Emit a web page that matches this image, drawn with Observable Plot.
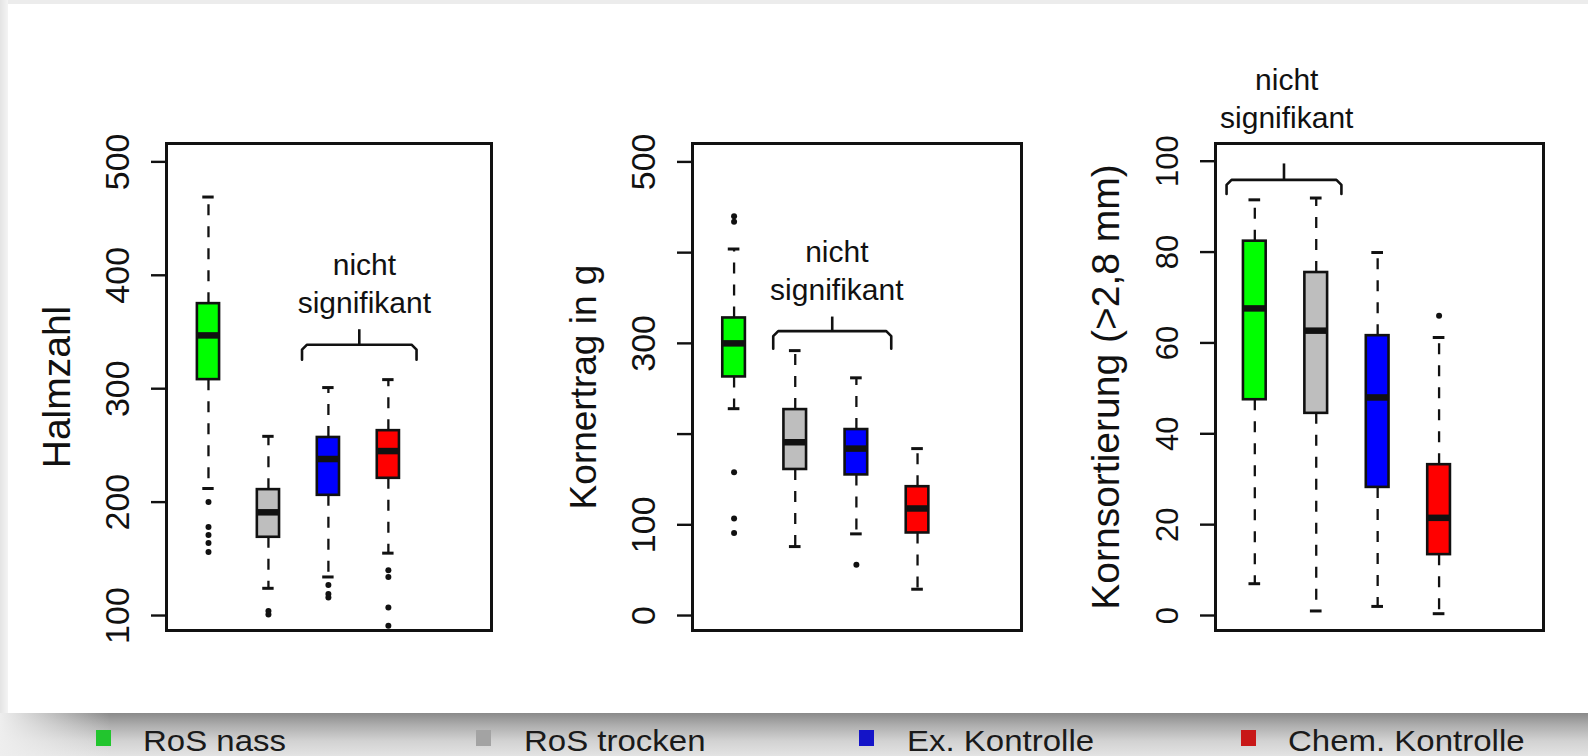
<!DOCTYPE html>
<html><head><meta charset="utf-8">
<script src="https://cdn.jsdelivr.net/npm/d3@7"></script>
<script src="https://cdn.jsdelivr.net/npm/@observablehq/plot@0.6"></script>
<style>
html,body{margin:0;padding:0;}
body{width:1588px;height:756px;position:relative;overflow:hidden;background:#ececec;font-family:"Liberation Sans",Arial,sans-serif;}
#card{position:absolute;left:8px;top:4px;width:1580px;height:709px;background:#fff;}
#leftshade{position:absolute;left:0;top:0;width:8px;height:713px;background:linear-gradient(to right,#e4e4e4,#f4f4f4);}
#strip{position:absolute;left:0;top:713px;width:1588px;height:43px;background:linear-gradient(to bottom,#8a8a8a 0%,#adadad 28%,#d2d2d2 65%,#e3e3e3 100%);}
#stripfade{position:absolute;left:0;top:713px;width:110px;height:43px;background:linear-gradient(to right,rgba(238,238,238,1),rgba(238,238,238,0));}
.panel{position:absolute;top:0;}
.sw{position:absolute;top:730px;width:15px;height:16px;}
.lt{position:absolute;top:726px;font-size:30px;color:#1a1a1a;transform:scaleX(1.1);transform-origin:left top;white-space:nowrap;line-height:1;}
</style></head>
<body>
<div id="leftshade"></div>
<div id="card"></div>
<div id="strip"></div>
<div id="stripfade"></div>
<div id="legend"></div>
<script>
const groups = ["RoS nass", "RoS trocken", "Ex. Kontrolle", "Chem. Kontrolle"];
const boxColors = ["#00ff00", "#bebebe", "#0000ff", "#ff0000"];
const legendColors = ["#22c52e", "#a3a3a3", "#1414c8", "#c81818"];

// Panel 1: Halmzahl
const halmLow  = [212, 124, 134, 155];
const halmQ1   = [308, 169, 206, 221];
const halmMed  = [347, 191, 238, 245];
const halmQ3   = [375, 211, 257, 263];
const halmHigh = [469, 258, 301, 308];
const halmOut  = [[200, 178, 171, 164, 156], [104, 101], [127, 119, 116], [140, 134, 107, 91]];
const halmTicks  = [100, 200, 300, 400, 500];
const halmLabels = [100, 200, 300, 400, 500];

// Panel 2: Kornertrag in g
const kornLow  = [228, 76, 90, 29];
const kornQ1   = [263, 161, 155, 91];
const kornMed  = [300, 191, 184, 118];
const kornQ3   = [328, 227, 205, 142];
const kornHigh = [404, 292, 262, 184];
const kornOut  = [[440, 434, 158, 107, 91], [], [56], []];
const kornTicks  = [0, 100, 200, 300, 400, 500];
const kornLabels = [0, 100, 300, 500];

// Panel 3: Kornsortierung
const sortLow  = [7, 1, 2, 0.4];
const sortQ1   = [47.5, 44.5, 28.2, 13.4];
const sortMed  = [67.6, 62.7, 48, 21.5];
const sortQ3   = [82.4, 75.5, 61.6, 33.2];
const sortHigh = [91.5, 91.9, 79.9, 61.2];
const sortOut  = [[], [], [], [66]];
const sortTicks  = [0, 20, 40, 60, 80, 100];
const sortLabels = [0, 20, 40, 60, 80, 100];

const titles = ["Halmzahl", "Kornertrag in g", "Kornsortierung (>2,8 mm)"];
const sigText = "nicht\nsignifikant";
// "nicht signifikant" brackets: group span, bar level, leg end, tip, label anchor
const brackets = [
  {x1: 2.56, x2: 4.47, y: 338.8, leg: 325.5, tip: 352, tx: 3.6, ty: 366.7},
  {x1: 1.64, x2: 3.57, y: 313.5, leg: 294, tip: 329, tx: 2.68, ty: 347.3},
  {x1: 0.54, x2: 2.41, y: 95.9, leg: 92.8, tip: 99.4, tx: 1.52, ty: 107.3}
];

const FONT = "'Liberation Sans', Arial, Helvetica, sans-serif";
const INK = "#111";

function panel(cfg) {
  const {low, q1, med, q3, high, out, ticks, labels, title, br, left, width, marginLeft, marginRight, xDomain, yDomain, tickFont, titleFont} = cfg;
  const height = 700, marginTop = 143, marginBottom = 70;
  const rows = groups.map((g, i) => ({g, i: i + 1, low: low[i], q1: q1[i], med: med[i], q3: q3[i], high: high[i], color: boxColors[i]}));
  const outs = out.flatMap((vals, i) => vals.map(v => ({i: i + 1, v})));
  const hw = 0.185, sw = 0.095;
  const pxX = (width - marginLeft - marginRight) / (xDomain[1] - xDomain[0]);
  const pxY = (height - marginTop - marginBottom) / (yDomain[1] - yDomain[0]);
  const cx = 5 / pxX, cy = 5 / pxY;
  const xc = (br.x1 + br.x2) / 2;
  const brPts = [
    {x: br.x1, y: br.leg}, {x: br.x1, y: br.y - cy}, {x: br.x1 + cx, y: br.y},
    {x: br.x2 - cx, y: br.y}, {x: br.x2, y: br.y - cy}, {x: br.x2, y: br.leg}
  ];
  const svg = Plot.plot({
    width, height, marginLeft, marginRight, marginTop, marginBottom,
    x: {domain: xDomain, axis: null},
    y: {domain: yDomain, axis: null},
    color: {type: "identity"},
    style: {fontFamily: FONT, background: "transparent", overflow: "visible", color: INK},
    marks: [
      Plot.ruleX(rows, {x: "i", y1: "q3", y2: "high", stroke: INK, strokeWidth: 2.3, strokeDasharray: "11,11"}),
      Plot.ruleX(rows, {x: "i", y1: "q1", y2: "low", stroke: INK, strokeWidth: 2.3, strokeDasharray: "11,11"}),
      Plot.ruleY(rows, {y: "high", x1: d => d.i - sw, x2: d => d.i + sw, stroke: INK, strokeWidth: 3}),
      Plot.ruleY(rows, {y: "low", x1: d => d.i - sw, x2: d => d.i + sw, stroke: INK, strokeWidth: 3}),
      Plot.rect(rows, {x1: d => d.i - hw, x2: d => d.i + hw, y1: "q1", y2: "q3", fill: "color", stroke: INK, strokeWidth: 2.6}),
      Plot.ruleY(rows, {y: "med", x1: d => d.i - hw, x2: d => d.i + hw, stroke: INK, strokeWidth: 6.5}),
      Plot.dot(outs, {x: "i", y: "v", r: 3, fill: INK, stroke: "none"}),
      Plot.frame({stroke: INK, strokeWidth: 3}),
      Plot.axisY({ticks, tickSize: 15, tickFormat: () => "", stroke: INK, strokeWidth: 2.4, label: null}),
      Plot.text(labels, {y: d => d, frameAnchor: "left", dx: -38, rotate: -90, textAnchor: "middle", lineAnchor: "bottom", fontSize: tickFont, fill: INK, ariaLabel: "stretch-v"}),
      Plot.text([title], {frameAnchor: "left", dx: -97, rotate: -90, textAnchor: "middle", lineAnchor: "bottom", fontSize: titleFont, fill: INK, ariaLabel: "stretch-v"}),
      Plot.line(brPts, {x: "x", y: "y", stroke: INK, strokeWidth: 2.6}),
      Plot.ruleX([br], {x: () => xc, y1: "y", y2: "tip", stroke: INK, strokeWidth: 2.6}),
      Plot.text([br], {x: "tx", y: "ty", text: () => sigText, textAnchor: "middle", lineAnchor: "bottom", lineHeight: 1.27, fontSize: 30, fill: INK, ariaLabel: "stretch-h"})
    ]
  });
  svg.querySelectorAll('g[aria-label="stretch-v"] text').forEach(t => t.setAttribute("transform", (t.getAttribute("transform") || "") + " scale(1,1.1)"));
  svg.querySelectorAll('g[aria-label="stretch-h"] text').forEach(t => t.setAttribute("transform", (t.getAttribute("transform") || "") + " scale(1.1,1)"));
  const div = document.createElement("div");
  div.className = "panel";
  div.style.left = left + "px";
  div.appendChild(svg);
  document.body.appendChild(div);
}

panel({low: halmLow, q1: halmQ1, med: halmMed, q3: halmQ3, high: halmHigh, out: halmOut, ticks: halmTicks, labels: halmLabels,
  title: titles[0], br: brackets[0], left: 0, width: 520, marginLeft: 166, marginRight: 29, xDomain: [0.30, 5.72], yDomain: [86.8, 516.2], tickFont: 34, titleFont: 39});
panel({low: kornLow, q1: kornQ1, med: kornMed, q3: kornQ3, high: kornHigh, out: kornOut, ticks: kornTicks, labels: kornLabels,
  title: titles[1], br: brackets[1], left: 530, width: 520, marginLeft: 162, marginRight: 29, xDomain: [0.32, 5.70], yDomain: [-16.5, 520.3], tickFont: 34, titleFont: 37});
panel({low: sortLow, q1: sortQ1, med: sortMed, q3: sortQ3, high: sortHigh, out: sortOut, ticks: sortTicks, labels: sortLabels,
  title: titles[2], br: brackets[2], left: 1060, width: 528, marginLeft: 155, marginRight: 45, xDomain: [0.36, 5.70], yDomain: [-3.3, 103.9], tickFont: 31, titleFont: 39});

// legend below the chart
const legendSwatchX = [96, 476, 859, 1241];
const legendTextX = [143, 524, 907, 1288];
const legend = document.getElementById("legend");
groups.forEach((g, i) => {
  const s = document.createElement("div");
  s.className = "sw";
  s.style.left = legendSwatchX[i] + "px";
  s.style.background = legendColors[i];
  legend.appendChild(s);
  const t = document.createElement("div");
  t.className = "lt";
  t.style.left = legendTextX[i] + "px";
  t.textContent = g;
  legend.appendChild(t);
});
</script>
</body></html>
